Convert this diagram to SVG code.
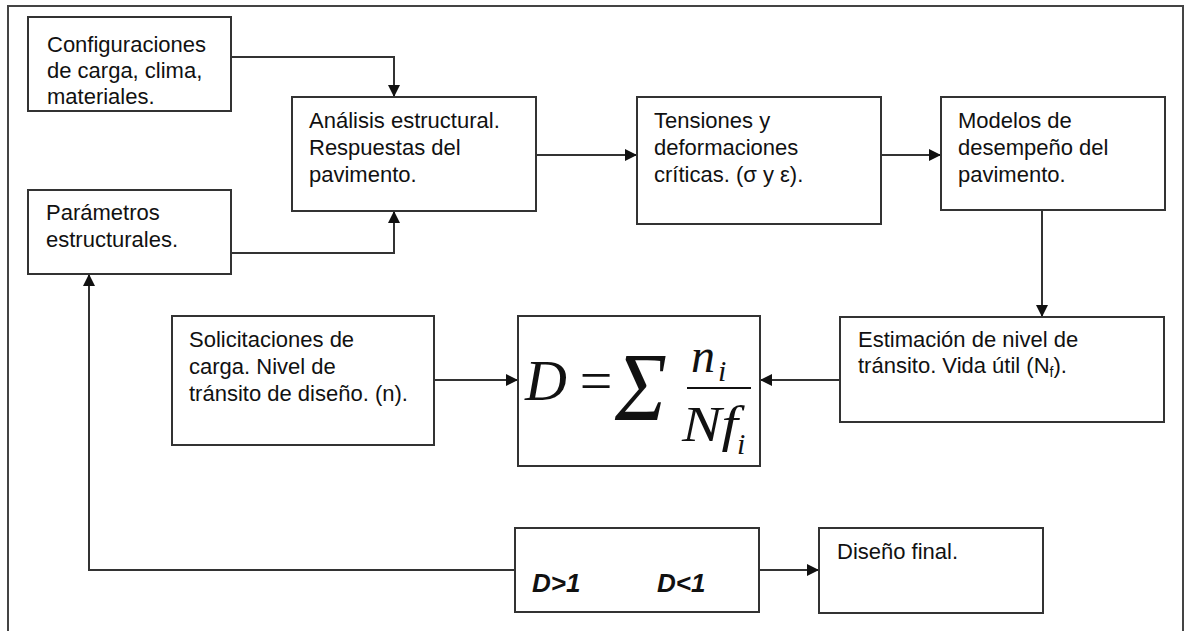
<svg xmlns="http://www.w3.org/2000/svg" width="1186" height="631" viewBox="0 0 1186 631">
<defs>
<marker id="arr" viewBox="0 0 10 10" refX="10" refY="5" markerWidth="12" markerHeight="12" markerUnits="userSpaceOnUse" orient="auto">
<path d="M0,0 L10,5 L0,10 z" fill="#111"/>
</marker>
<style>
.box{fill:#fff;stroke:#333;stroke-width:2}
.t{font-family:"Liberation Sans",Arial,sans-serif;font-size:22px;fill:#111}
.c{fill:none;stroke:#333;stroke-width:2}
.m{font-family:"Liberation Serif","Times New Roman",serif;font-style:italic;fill:#111}
.b{font-family:"Liberation Sans",Arial,sans-serif;font-size:26px;font-weight:bold;font-style:italic;fill:#111}
</style>
</defs>
<rect x="8" y="6" width="1175" height="660" fill="#fff" stroke="#444" stroke-width="2"/>
<g id="connectors">
<path class="c" d="M231,57 H394 V97" marker-end="url(#arr)"/>
<path class="c" d="M231,253 H394 V211" marker-end="url(#arr)"/>
<path class="c" d="M536,155 H637" marker-end="url(#arr)"/>
<path class="c" d="M881,155 H941" marker-end="url(#arr)"/>
<path class="c" d="M1042,210 V317" marker-end="url(#arr)"/>
<path class="c" d="M434,380 H518" marker-end="url(#arr)"/>
<path class="c" d="M840,380 H760" marker-end="url(#arr)"/>
<path class="c" d="M515,570 H89 V274" marker-end="url(#arr)"/>
<path class="c" d="M759,570 H819" marker-end="url(#arr)"/>
</g>
<g id="n-config">
<rect class="box" x="28" y="17" width="203" height="94"/>
<text class="t" x="47" y="52">Configuraciones</text>
<text class="t" x="47" y="78">de carga, clima,</text>
<text class="t" x="47" y="104">materiales.</text>
</g>
<g id="n-parametros">
<rect class="box" x="28" y="190" width="203" height="84"/>
<text class="t" x="46" y="220">Parámetros</text>
<text class="t" x="46" y="247">estructurales.</text>
</g>
<g id="n-analisis">
<rect class="box" x="292" y="97" width="244" height="114"/>
<text class="t" x="309" y="128">Análisis estructural.</text>
<text class="t" x="309" y="155">Respuestas del</text>
<text class="t" x="309" y="182">pavimento.</text>
</g>
<g id="n-tensiones">
<rect class="box" x="637" y="97" width="244" height="127"/>
<text class="t" x="654" y="128">Tensiones y</text>
<text class="t" x="654" y="155">deformaciones</text>
<text class="t" x="654" y="182">críticas. (σ y ε).</text>
</g>
<g id="n-modelos">
<rect class="box" x="941" y="97" width="224" height="113"/>
<text class="t" x="958" y="128">Modelos de</text>
<text class="t" x="958" y="155">desempeño del</text>
<text class="t" x="958" y="182">pavimento.</text>
</g>
<g id="n-solicitaciones">
<rect class="box" x="172" y="316" width="262" height="129"/>
<text class="t" x="189" y="347">Solicitaciones de</text>
<text class="t" x="189" y="374">carga. Nivel de</text>
<text class="t" x="189" y="401">tránsito de diseño. (n).</text>
</g>
<g id="n-formula">
<rect class="box" x="518" y="316" width="242" height="150"/>
<text class="m" x="525" y="400" font-size="58">D</text>
<text class="m" x="576" y="400" font-size="58" font-style="normal">=</text>
<text class="m" x="615" y="420" font-size="98" font-style="normal" textLength="52" lengthAdjust="spacingAndGlyphs">Σ</text>
<text class="m" x="691" y="372" font-size="48">n</text>
<text class="m" x="718" y="381" font-size="30">i</text>
<line x1="687" y1="388" x2="751" y2="388" stroke="#111" stroke-width="2"/>
<text class="m" x="682" y="441" font-size="50" textLength="56" lengthAdjust="spacingAndGlyphs">Nf</text>
<text class="m" x="737" y="454" font-size="30">i</text>
</g>
<g id="n-estimacion">
<rect class="box" x="840" y="317" width="324" height="105"/>
<text class="t" x="858" y="347">Estimación de nivel de</text>
<text class="t" x="858" y="373">tránsito. Vida útil (N<tspan font-size="14" dy="4">f</tspan><tspan dy="-4">).</tspan></text>
</g>
<g id="n-decision">
<rect class="box" x="515" y="528" width="244" height="84"/>
<text class="b" x="532" y="592">D&gt;1</text>
<text class="b" x="657" y="592">D&lt;1</text>
</g>
<g id="n-final">
<rect class="box" x="819" y="528" width="224" height="85"/>
<text class="t" x="837" y="559">Diseño final.</text>
</g>
</svg>
